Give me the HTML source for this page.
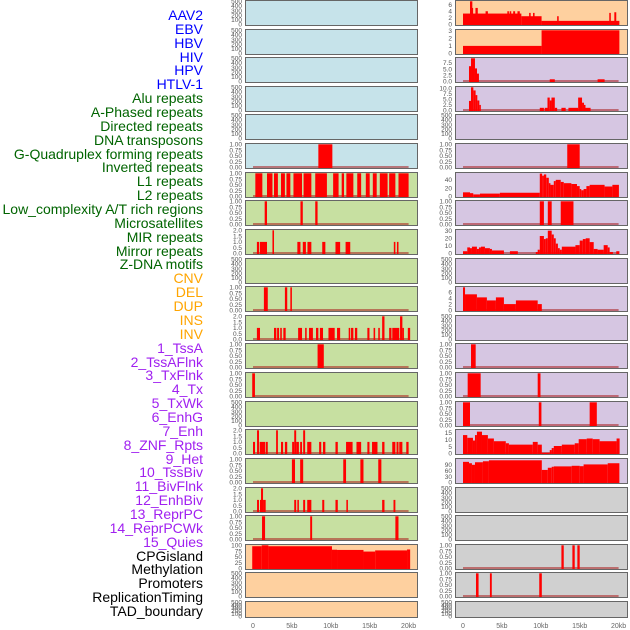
<!DOCTYPE html>
<html><head><meta charset="utf-8">
<style>
html,body{margin:0;padding:0;background:#fff;}
#wrap{position:relative;width:630px;height:630px;overflow:hidden;}
.lab{position:absolute;right:427px;font-family:"Liberation Sans",sans-serif;font-size:14px;line-height:14px;white-space:nowrap;}
svg{position:absolute;left:0;top:0;}
</style></head>
<body>
<div id="wrap">
<div id="labels"></div>
<svg id="chart" width="630" height="630"></svg>
</div>
<script>
// ---- label data ----
const labelNames = ["AAV2","EBV","HBV","HIV","HPV","HTLV-1","Alu repeats","A-Phased repeats","Directed repeats","DNA transposons","G-Quadruplex forming repeats","Inverted repeats","L1 repeats","L2 repeats","Low_complexity A/T rich regions","Microsatellites","MIR repeats","Mirror repeats","Z-DNA motifs","CNV","DEL","DUP","INS","INV","1_TssA","2_TssAFlnk","3_TxFlnk","4_Tx","5_TxWk","6_EnhG","7_Enh","8_ZNF_Rpts","9_Het","10_TssBiv","11_BivFlnk","12_EnhBiv","13_ReprPC","14_ReprPCWk","15_Quies","CPGisland","Methylation","Promoters","ReplicationTiming","TAD_boundary"];
const labelGroups = [6,13,5,15,5];
const groupColors = ["#0000ff","#006400","#ffa500","#a020f0","#000000"];

// ---- axis ticks ----
const xTickValues = [0,5,10,15,20];
const xTickLabels = ["0","5kb","10kb","15kb","20kb"];
const ticksEmpty = [0,100,200,300,400,500];
const ticksBin = [0,0.25,0.5,0.75,1];
const ticksCnt = [0,0.5,1,1.5,2];

// ---- left column series [startKb, endKb, value] ----
const L_Gquad = [[8.4,10.2,1]];
const L_L1 = [[0.3,1.2,1],[1.8,2.5,1],[2.7,3.2,1],[3.6,4.1,1],[4.3,4.8,1],[5.2,6.3,1],[6.5,7.5,1],[8.0,9.5,1],[10.3,11.0,1],[11.4,11.7,1],[12.0,12.9,1],[13.4,13.9,1],[14.5,15.0,1],[15.4,15.9,1],[16.3,17.3,1],[17.5,18.3,1],[18.7,20.0,1]];
const L_LowComp = [[1.5,1.8,1],[6.1,6.4,1],[8.0,8.3,1]];
const L_MIR = [[0.5,0.8,1],[0.9,1.8,1],[2.5,2.7,2],[5.7,6.1,1],[6.4,6.8,1],[7.0,7.5,1],[8.9,9.3,1],[10.6,11.2,1],[11.9,12.5,1],[18.1,18.3,1],[18.5,18.7,1]];
const L_DEL = [[1.4,1.9,1],[4.1,4.4,1],[4.8,5.0,1]];
const L_INV = [[0.5,0.9,1],[2.7,3.0,1],[3.1,3.35,1],[3.5,3.7,1],[3.9,4.2,1],[5.8,6.3,1],[6.7,6.9,1],[7.2,7.7,1],[8.1,8.4,1],[8.6,9.0,1],[9.7,10.5,1],[10.8,11.2,1],[12.3,12.5,1],[12.6,12.9,1],[13.1,13.4,1],[14.7,14.97,1],[15.5,15.7,1],[16.1,16.3,1],[16.6,16.9,2],[17.5,17.8,1],[17.9,18.8,1],[18.9,19.2,2],[19.2,19.4,1],[19.9,20.2,1]];
const L_TssA = [[8.3,9.1,1]];
const L_TxFlnk = [[-0.1,0.25,1]];
const L_Enh = [[0,0.26,1],[0.52,0.77,2],[0.86,1.55,1],[1.63,1.9,1],[2.97,3.2,2],[3.6,3.87,1],[4.1,4.4,1],[5.03,5.3,1],[5.3,5.55,2],[5.55,5.9,1],[6.06,6.3,1],[6.45,6.7,2],[6.97,7.5,1],[8.5,8.77,1],[9.0,9.3,1],[10.6,10.9,1],[11.96,12.8,1],[13.3,13.9,1],[14.7,14.97,1],[15.3,16.0,1],[16.6,16.9,1],[17.9,18.3,1],[18.45,18.7,1],[18.8,19.2,1],[19.7,20.0,1]];
const L_ZNF = [[5.0,5.4,1],[6.06,6.45,1],[11.6,11.96,1],[13.8,14.2,1],[16.1,16.5,1]];
const L_Het = [[0.52,0.77,1],[0.9,1.03,1],[1.03,1.29,2],[1.29,1.63,1],[5.3,5.55,1],[5.7,5.9,1],[6.45,6.7,1],[6.97,7.5,1],[8.9,9.16,1],[10.6,10.9,1],[12.0,12.2,1],[16.6,16.9,1],[18.06,18.3,1]];
const L_TssBiv = [[1.16,1.55,1],[7.35,7.6,1],[18.3,18.7,1]];
const L_CpG = [[-0.1,1.12,96],[1.12,1.98,100],[1.98,10.15,96],[10.15,10.8,81],[10.8,14.2,80],[14.2,15.7,73],[15.7,19.8,78],[19.8,20.2,82]];

// ---- right column series ----
const R_AAV2 = [[0,7.5,3.3],[7.5,10.1,2.5],[10.1,20.1,1.1],[0.9,1.2,7],[1.1,1.3,5],[1.6,1.9,5],[2.9,3.2,4],[5.7,5.9,4],[6.0,6.2,4],[6.45,6.7,4],[7.0,7.3,4],[8.5,8.7,3.5],[9.0,9.2,3.5],[12.1,12.3,2.5],[18.8,19.0,3.5],[19.45,19.7,3.7]];
const R_EBV = [[0,10.1,1],[10.1,20.1,3.05]];
const R_HBV = [[0.77,1.03,6.2],[1.03,1.54,9.4],[1.54,1.8,5.3],[1.8,2.05,3.2],[11.15,11.8,0.9],[17.3,18.2,0.9]];
const R_HIV = [[0.77,1.03,4.3],[1.03,1.33,10.4],[1.33,1.62,9.0],[1.62,1.84,6.9],[1.84,2.1,4.5],[2.1,2.26,2.5],[9.87,10.4,1.2],[10.5,10.86,1.2],[10.86,11.15,5.8],[11.15,11.37,4.5],[11.37,11.8,5.8],[11.8,12.1,1.2],[12.65,13.2,1.2],[13.55,14.8,1.2],[14.8,15.3,5.8],[15.3,15.55,3.5],[15.55,15.7,2.5],[15.7,16.4,1.2]];
const R_Gquad = [[13.4,15.0,1]];
const R_Inverted = [[0,0.9,10],[0.9,1.32,8],[1.32,2.18,5],[2.18,4.74,7],[4.74,9.87,9],[9.87,10.17,55],[10.17,10.4,50],[10.4,10.7,53],[10.7,11.03,45],[11.03,11.24,32],[11.24,11.67,28],[11.67,11.92,37],[11.92,12.56,40],[12.56,12.95,35],[12.95,13.93,32],[13.93,14.65,30],[14.65,15.0,25],[15.0,15.2,18],[15.2,15.5,15],[15.5,15.86,18],[15.86,16.28,25],[16.28,18.2,28],[18.2,19.2,24],[19.2,20.04,28]];
const R_L1 = [[9.87,10.4,1],[10.9,11.4,1],[12.56,14.2,1]];
const R_L2 = [[0,0.55,3],[0.55,0.9,8],[0.9,1.15,7],[1.15,1.79,9],[1.79,2.05,6],[2.05,2.31,8],[2.31,2.82,9],[2.82,3.46,7],[3.46,3.72,6],[3.72,5.26,4],[6.03,7.05,3],[9.36,9.6,2],[9.6,9.87,5],[9.87,10.4,23],[10.4,10.64,19],[10.64,10.9,20],[10.9,11.4,30],[11.4,11.67,25],[11.67,11.92,20],[11.92,12.2,13],[12.2,12.44,7],[12.44,12.7,5],[12.7,14.45,9],[14.45,15.0,11],[15.0,15.4,17],[15.4,15.77,19],[15.77,16.28,20],[16.28,16.8,15],[16.8,17.3,6],[17.3,18.08,5],[18.08,18.6,11],[18.6,18.85,8],[18.85,19.27,2],[19.7,20.1,3]];
const R_Micro = [[0,0.26,7.6],[0.26,1.79,5.3],[1.79,3.07,4.3],[3.07,4.23,3.3],[4.23,5.26,4.3],[5.26,6.8,2.1],[6.8,9.6,3.3],[9.6,10.13,2.1]];
const R_DUP = [[1.03,1.63,1]];
const R_INS = [[0.6,2.27,1],[9.6,9.96,1]];
const R_INV = [[0,0.9,1],[9.74,10.08,1],[16.28,17.2,1]];
const R_TssA = [[0,0.55,13.5],[0.55,1.28,11.5],[1.28,1.54,9.5],[1.54,1.79,13.5],[1.79,2.44,16],[2.44,3.2,13.5],[3.2,3.97,11],[3.97,5.5,9],[5.5,5.9,7.5],[5.9,8.97,6.5],[8.97,9.6,8.5],[9.6,10.13,6.5],[10.13,11.15,0.5],[11.15,11.4,2.5],[11.4,11.67,4],[11.67,12.7,5.5],[12.7,14.36,6.5],[14.36,14.87,7.5],[14.87,15.9,10.5],[15.9,16.67,11],[16.67,17.56,10.5],[17.56,19.74,9],[19.74,20.13,11]];
const R_TssAFlnk = [[0,0.77,105],[0.77,1.15,98],[1.15,1.54,90],[1.54,2.56,103],[2.56,3.33,108],[3.33,10.13,113],[10.13,10.9,64],[10.9,11.4,75],[11.4,11.67,80],[11.67,13.97,82],[13.97,15.0,85],[15.0,15.5,83],[15.5,18.6,92],[18.6,20.1,98]];
const R_TxWk = [[12.65,12.95,1],[14.06,14.36,1],[14.7,15.0,1]];
const R_EnhG = [[1.67,2.0,1],[3.46,3.7,1],[9.8,10.13,1]];
const none = [];

// ---- panel configuration: [col, row, bg, ticks, ymax, tickDecimals, series, baseline] ----
const BLUE="#c6e3ea", GREEN="#c7e0a1", ORANGE="#fed09f", PURPLE="#d6c6e2", GRAY="#d0d0d0";
const panelsCfg = [
 ["L",0,BLUE,ticksEmpty,500,0,none,0],["L",1,BLUE,ticksEmpty,500,0,none,0],["L",2,BLUE,ticksEmpty,500,0,none,0],["L",3,BLUE,ticksEmpty,500,0,none,0],["L",4,BLUE,ticksEmpty,500,0,none,0],
 ["L",5,BLUE,ticksBin,1,2,L_Gquad,1],["L",6,GREEN,ticksBin,1,2,L_L1,1],["L",7,GREEN,ticksBin,1,2,L_LowComp,1],["L",8,GREEN,ticksCnt,2,1,L_MIR,1],
 ["L",9,GREEN,ticksEmpty,500,0,none,0],["L",10,GREEN,ticksBin,1,2,L_DEL,1],["L",11,GREEN,ticksCnt,2,1,L_INV,1],["L",12,GREEN,ticksBin,1,2,L_TssA,1],
 ["L",13,GREEN,ticksBin,1,2,L_TxFlnk,1],["L",14,GREEN,ticksEmpty,500,0,none,0],["L",15,GREEN,ticksCnt,2,1,L_Enh,1],["L",16,GREEN,ticksBin,1,2,L_ZNF,1],
 ["L",17,GREEN,ticksCnt,2,1,L_Het,1],["L",18,GREEN,ticksBin,1,2,L_TssBiv,1],["L",19,ORANGE,[0,25,50,75,100],100,0,L_CpG,0],
 ["L",20,ORANGE,ticksEmpty,500,0,none,0],["L",21,ORANGE,ticksEmpty,500,0,none,0],
 ["R",0,ORANGE,[0,2,4,6],7,0,R_AAV2,0],["R",1,ORANGE,[0,1,2,3],3.05,0,R_EBV,0],["R",2,PURPLE,[0,2.5,5,7.5],9.4,1,R_HBV,1],["R",3,PURPLE,[0,2.5,5,7.5,10],10.4,1,R_HIV,1],
 ["R",4,PURPLE,ticksEmpty,500,0,none,0],["R",5,PURPLE,ticksBin,1,2,R_Gquad,1],["R",6,PURPLE,[0,20,40],55.7,0,R_Inverted,0],["R",7,PURPLE,ticksBin,1,2,R_L1,1],
 ["R",8,PURPLE,[0,10,20,30],30.5,0,R_L2,1],["R",9,PURPLE,ticksEmpty,500,0,none,0],["R",10,PURPLE,[0,2,4,6],7.6,0,R_Micro,1],["R",11,PURPLE,ticksEmpty,500,0,none,0],
 ["R",12,PURPLE,ticksBin,1,2,R_DUP,1],["R",13,PURPLE,ticksBin,1,2,R_INS,1],["R",14,PURPLE,ticksBin,1,2,R_INV,1],["R",15,PURPLE,[0,5,10,15],17,0,R_TssA,1],
 ["R",16,PURPLE,[0,30,60,90],118,0,R_TssAFlnk,0],["R",17,GRAY,ticksEmpty,500,0,none,0],["R",18,GRAY,ticksEmpty,500,0,none,0],
 ["R",19,GRAY,ticksBin,1,2,R_TxWk,1],["R",20,GRAY,ticksBin,1,2,R_EnhG,1],["R",21,GRAY,ticksEmpty,500,0,none,0]
];

// ---- labels ----
const labDiv = document.getElementById('labels');
let li = 0;
labelGroups.forEach((n,g)=>{
  for(let k=0;k<n;k++){
    const d=document.createElement('div');
    d.className='lab';
    d.style.color=groupColors[g];
    d.style.top=(8+li*13.86)+'px';
    d.textContent=labelNames[li];
    
    
    labDiv.appendChild(d);
    li++;
  }
});

// ---- drawing ----
const NS="http://www.w3.org/2000/svg";
const svg=document.getElementById('chart');
function mk(tag,attrs,parent){const e=document.createElementNS(NS,tag);for(const k in attrs)e.setAttribute(k,attrs[k]);(parent||svg).appendChild(e);return e;}
const colX={L:245,R:455};
const PW=172;
function xScale(col,v){return colX[col]+8+v*7.78;}
function rowTop(r){return Math.round(r*28.62)+0.5;}
function rowH(r){return r===21?16:25;}

panelsCfg.forEach(cfg=>{
  const [col,row,bg,ticks,ymax,dec,series,baseline]=cfg;
  const top=rowTop(row), h=rowH(row), x0=colX[col];
  const g=mk('g',{});
  
  
  const yScale=v=>top+h-1-(v/ymax)*(h-1.8);
  mk('rect',{x:x0+0.5,y:top,width:PW,height:h,fill:bg,stroke:'none'},g);
  if(baseline){
    const bl=mk('line',{x1:xScale(col,0),x2:xScale(col,20),y1:top+h-1.5,y2:top+h-1.5,stroke:'rgba(170,30,30,0.55)','stroke-width':2},g);
    
    
  }
  series.forEach(s=>{
    const xa=xScale(col,s[0]), xb=xScale(col,s[1]);
    const yv=Math.max(yScale(s[2]),top+0.5);
    const r=mk('rect',{x:xa,y:yv,width:Math.max(xb-xa,1.5),height:top+h-0.5-yv,fill:'#ff0000'},g);
    
    
  });
  mk('rect',{x:x0+0.5,y:top,width:PW,height:h,fill:'none',stroke:'#666','stroke-width':1},g);
  ticks.forEach(t=>{
    const tx=mk('text',{x:x0-3,y:yScale(t)+2.2,'text-anchor':'end','font-family':'Liberation Sans, sans-serif','font-size':6.5,fill:'#555'},g);
    tx.textContent=t.toFixed(dec);
    
    
  });
});

['L','R'].forEach(col=>{
  xTickValues.forEach((v,i)=>{
    const t=mk('text',{x:xScale(col,v),y:628,'text-anchor':'middle','font-family':'Liberation Sans, sans-serif','font-size':7,fill:'#666'});
    t.textContent=xTickLabels[i];
    
    
  });
});
</script>
</body></html>
